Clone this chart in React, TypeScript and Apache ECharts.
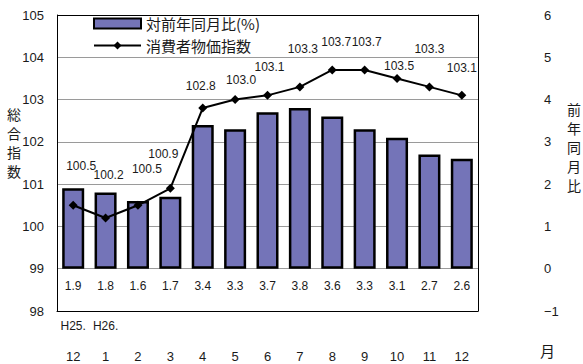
import React, { useEffect, useRef } from "react";
import * as echarts from "echarts";

const months = ["12", "1", "2", "3", "4", "5", "6", "7", "8", "9", "10", "11", "12"];
const eraLabels = ["H25.", "H26.", "", "", "", "", "", "", "", "", "", "", ""];
const yoyChange = [1.9, 1.8, 1.6, 1.7, 3.4, 3.3, 3.7, 3.8, 3.6, 3.3, 3.1, 2.7, 2.6];
const cpiIndex = [100.5, 100.2, 100.5, 100.9, 102.8, 103.0, 103.1, 103.3, 103.7, 103.7, 103.5, 103.3, 103.1];
const leftTicks = { min: 98, max: 105, interval: 1 };
const rightTicks = { min: -1, max: 6, interval: 1 };
const barName = "対前年同月比(%)";
const lineName = "消費者物価指数";

// label nudges (styling only)
const lineLabelDx = [8, 3, 9, -7, -2, 6, 2, 3, 4, 2, 2, 0, 0];
const lineLabelDy = [39, 43, 36, 34, 22, 20, 28, 38, 28, 28, 12, 38, 27];

const NUM_FONT = "'Liberation Sans', Arial, 'Noto Sans CJK JP', sans-serif";
const JP_FONT = "'Noto Sans CJK JP', sans-serif";
const TXT = "#1a1a1a";

export default function App() {
  const ref = useRef<HTMLDivElement>(null);
  useEffect(() => {
    if (!ref.current) return;
    const chart = echarts.init(ref.current, null, { renderer: "svg" });
    const splitColors = ["#000"];
    for (let i = 1; i < 7; i++) splitColors.push("#9a9a9a");
    splitColors.push("#000");
    chart.setOption({
      animation: false,
      backgroundColor: "#fff",
      grid: { left: 57, right: 105, top: 15, bottom: 53 },
      legend: {
        orient: "vertical",
        left: 88,
        top: 10,
        itemWidth: 47,
        itemHeight: 10,
        itemGap: 5,
        textStyle: { fontSize: 15, fontFamily: JP_FONT, color: TXT, lineHeight: 17 },
        data: [
          { name: barName, icon: "rect" },
          { name: lineName },
        ],
      },
      xAxis: {
        type: "category",
        data: months,
        axisLine: { show: true, onZero: false, lineStyle: { color: "#000", width: 1 } },
        axisTick: { show: false },
        axisLabel: {
          interval: 0,
          margin: 7,
          formatter: (v: string, i: number) => `{e|${eraLabels[i] || " "}}\n{m|${v}}`,
          rich: {
            e: { fontSize: 12, fontFamily: NUM_FONT, color: TXT, lineHeight: 16 },
            m: { fontSize: 13, fontFamily: NUM_FONT, color: TXT, lineHeight: 44 },
          },
        },
      },
      yAxis: [
        {
          type: "value",
          min: leftTicks.min,
          max: leftTicks.max,
          interval: leftTicks.interval,
          axisLine: { show: true, lineStyle: { color: "#000", width: 1 } },
          axisTick: { show: false },
          splitLine: { show: true, lineStyle: { color: splitColors, width: 1 } },
          axisLabel: { margin: 13, fontSize: 13, fontFamily: NUM_FONT, color: TXT },
        },
        {
          type: "value",
          min: rightTicks.min,
          max: rightTicks.max,
          interval: rightTicks.interval,
          position: "right",
          axisLine: { show: true, lineStyle: { color: "#000", width: 1 } },
          axisTick: { show: false },
          splitLine: { show: false },
          axisLabel: {
            margin: 66,
            align: "left",
            fontSize: 13,
            fontFamily: NUM_FONT,
            color: TXT,
            formatter: (v: number) => (v < 0 ? "\u2212" + Math.abs(v) : String(v)),
          },
        },
      ],
      series: [
        {
          name: barName,
          type: "bar",
          yAxisIndex: 1,
          data: yoyChange,
          barWidth: "68%",
          itemStyle: { color: "#7474b8", borderColor: "#000", borderWidth: 2.5 },
          label: {
            show: true,
            position: "bottom",
            distance: 11,
            fontSize: 12,
            fontFamily: NUM_FONT,
            color: TXT,
            formatter: (p: any) => p.value.toFixed(1),
          },
          z: 2,
        },
        {
          name: lineName,
          type: "line",
          yAxisIndex: 0,
          data: cpiIndex.map((v, i) => ({
            value: v,
            label: { offset: [lineLabelDx[i], -lineLabelDy[i]] },
          })),
          symbol: "diamond",
          symbolSize: 9,
          lineStyle: { color: "#000", width: 2 },
          itemStyle: { color: "#000" },
          label: {
            show: true,
            position: "inside",
            fontSize: 12,
            fontFamily: NUM_FONT,
            color: TXT,
            formatter: (p: any) => Number(p.value).toFixed(1),
          },
          z: 3,
        },
      ],
      graphic: [
        {
          type: "text",
          left: 7,
          top: 104,
          style: {
            text: "総\n合\n指\n数",
            fontSize: 14,
            lineHeight: 19,
            fontFamily: JP_FONT,
            fill: TXT,
          },
        },
        {
          type: "text",
          left: 567,
          top: 99,
          style: {
            text: "前\n年\n同\n月\n比",
            fontSize: 14,
            lineHeight: 19,
            fontFamily: JP_FONT,
            fill: TXT,
          },
        },
        {
          type: "text",
          left: 540,
          top: 343,
          style: { text: "月", fontSize: 15, fontFamily: JP_FONT, fill: TXT },
        },
      ],
    });
    return () => chart.dispose();
  }, []);
  return (
    <div
      ref={ref}
      style={{ position: "fixed", left: 0, top: 0, width: 583, height: 364 }}
    />
  );
}
